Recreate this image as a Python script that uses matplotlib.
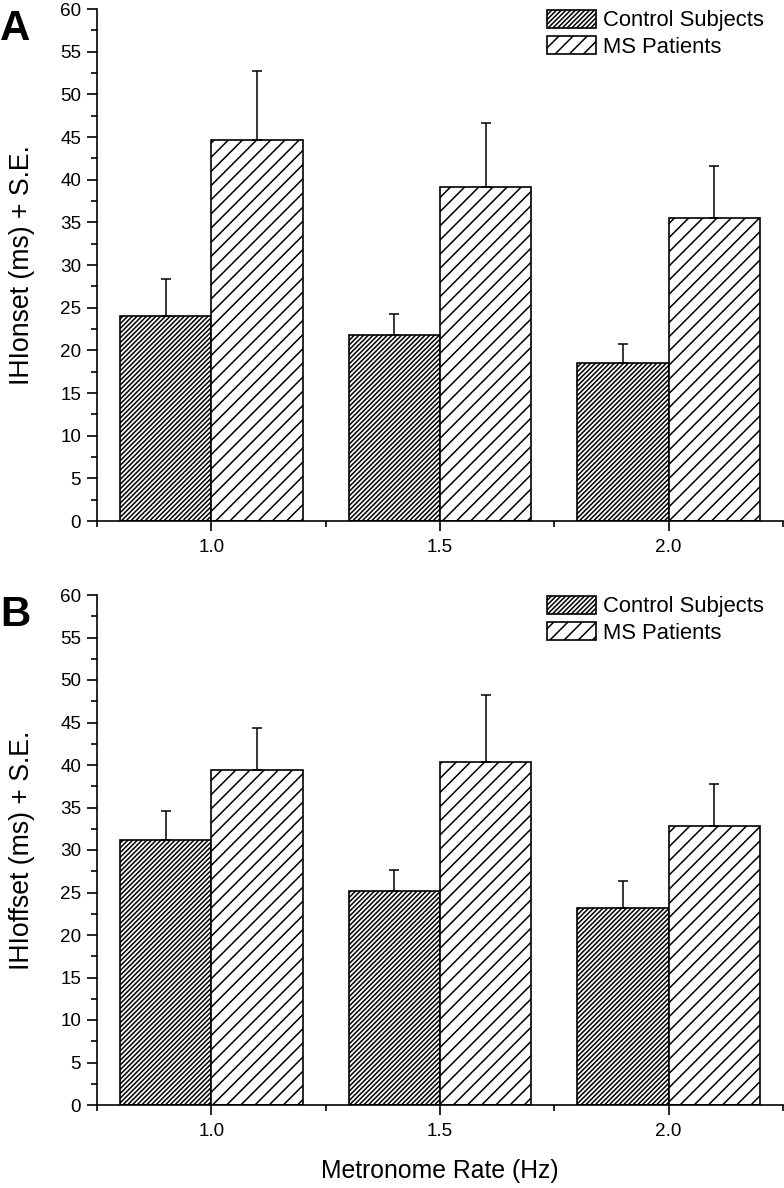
import matplotlib
matplotlib.use("Agg")
import matplotlib.pyplot as plt
import numpy as np
from matplotlib.patches import Patch
from matplotlib.ticker import MultipleLocator

plt.rcParams['font.family'] = ['Liberation Sans', 'DejaVu Sans']
plt.rcParams['hatch.linewidth'] = 1.3

# ---- data ----
rates = [1.0, 1.5, 2.0]
rate_labels = ["1.0", "1.5", "2.0"]
series_names = ["Control Subjects", "MS Patients"]

onset_control = [24.0, 21.8, 18.5]
onset_control_se = [4.4, 2.4, 2.3]
onset_ms = [44.6, 39.1, 35.5]
onset_ms_se = [8.1, 7.5, 6.1]

offset_control = [31.2, 25.2, 23.2]
offset_control_se = [3.4, 2.5, 3.1]
offset_ms = [39.4, 40.4, 32.8]
offset_ms_se = [5.0, 7.8, 5.0]

panels = [
    ("A", "IHIonset (ms) + S.E.", onset_control, onset_control_se, onset_ms, onset_ms_se),
    ("B", "IHIoffset (ms) + S.E.", offset_control, offset_control_se, offset_ms, offset_ms_se),
]

W, H = 785, 1188
DPI = 85
fig = plt.figure(figsize=(W / DPI, H / DPI), dpi=DPI)

def fx(px):
    return px / W

def fy(py):
    return 1 - py / H

axes_px = [(97, 783, 9, 521), (97, 783, 595, 1105)]
hatches = ['//////', '//']
bar_w = 0.2
lw = 1.4

for (letter, ylabel, c, cse, m, mse), (l, r, t, b) in zip(panels, axes_px):
    ax = fig.add_axes([fx(l), fy(b), fx(r) - fx(l), fy(t) - fy(b)])
    x = np.array(rates)
    ax.bar(x - bar_w / 2, c, width=bar_w, facecolor='white', edgecolor='black',
           linewidth=lw, hatch=hatches[0], zorder=2)
    ax.bar(x + bar_w / 2, m, width=bar_w, facecolor='white', edgecolor='black',
           linewidth=lw, hatch=hatches[1], zorder=2)
    ax.errorbar(x - bar_w / 2, c, yerr=[np.zeros(3), cse], fmt='none', ecolor='black',
                elinewidth=1.3, capsize=4.6, capthick=1.3, zorder=3)
    ax.errorbar(x + bar_w / 2, m, yerr=[np.zeros(3), mse], fmt='none', ecolor='black',
                elinewidth=1.3, capsize=4.6, capthick=1.3, zorder=3)

    ax.set_xlim(0.75, 2.25)
    ax.set_ylim(0, 60)
    ax.set_xticks(rates)
    ax.set_xticklabels(rate_labels)
    ax.xaxis.set_minor_locator(MultipleLocator(0.25))
    ax.set_yticks(np.arange(0, 61, 5))
    ax.yaxis.set_minor_locator(MultipleLocator(2.5))
    for s in ['top', 'right']:
        ax.spines[s].set_visible(False)
    for s in ['left', 'bottom']:
        ax.spines[s].set_linewidth(lw)
    ax.tick_params(axis='both', which='major', direction='out', length=8.5, width=lw,
                   labelsize=16, colors='black')
    ax.tick_params(axis='both', which='minor', direction='out', length=5, width=lw)
    ax.tick_params(axis='x', which='major', pad=7)
    ax.tick_params(axis='y', which='major', pad=5)

    handles = [Patch(facecolor='white', edgecolor='black', linewidth=lw, hatch=hatches[0]),
               Patch(facecolor='white', edgecolor='black', linewidth=lw, hatch=hatches[1])]
    fig.legend(handles, series_names, loc='upper left',
               bbox_to_anchor=(fx(547), fy(t + 1)), frameon=False, fontsize=18.6,
               handlelength=2.25, handleheight=0.85, handletextpad=0.28,
               labelspacing=0.22, borderpad=0, borderaxespad=0)

    fig.text(fx(22), fy((t + b) / 2), ylabel, rotation=90, ha='center', va='center',
             fontsize=22.5)
    fig.text(fx(0), fy(t + 31), letter, ha='left', va='baseline', fontsize=35.6,
             fontweight='bold')

fig.text(fx(440), fy(1171), "Metronome Rate (Hz)", ha='center', va='center', fontsize=21)

fig.savefig("out.png", dpi=DPI, facecolor='white')
